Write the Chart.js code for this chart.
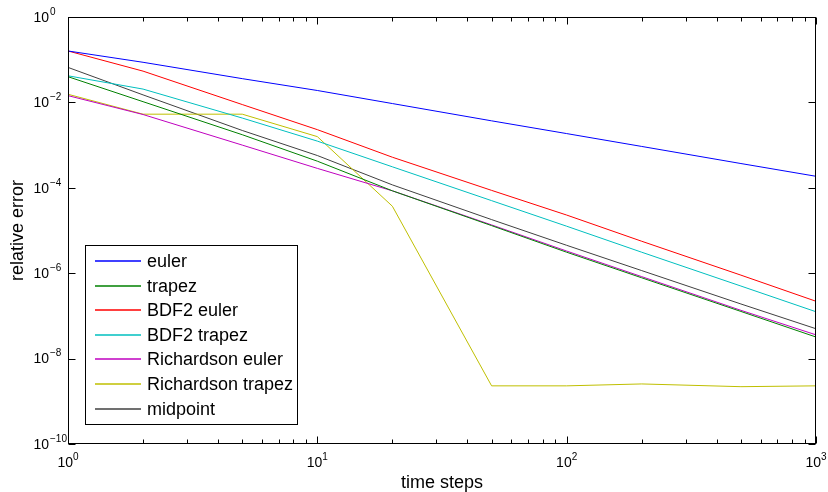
<!DOCTYPE html>
<html>
<head>
<meta charset="utf-8">
<script src="https://cdn.jsdelivr.net/npm/chart.js@4.4.0/dist/chart.umd.min.js"></script>
<style>
  body { margin: 0; background: #fff; }
  #wrap { width: 828px; height: 492px; position: relative; }
</style>
</head>
<body>
<div id="wrap"><canvas id="errChart"></canvas></div>
<script>
// time steps (x) and relative errors
const steps = [1, 2, 5, 10, 20, 50, 100, 200, 500, 1000];
const euler = [0.16, 0.087, 0.036, 0.019, 0.0094, 0.0037, 0.00186, 9.3e-4, 3.7e-4, 1.86e-4];
const trapez = [0.040, 0.0104, 1.75e-3, 4.2e-4, 8.5e-5, 1.3e-5, 3.1e-6, 7.8e-7, 1.27e-7, 3.2e-8];
const bdf2Euler = [0.16, 0.054, 8.9e-3, 2.3e-3, 5.2e-4, 8.7e-5, 2.3e-5, 5.6e-6, 9.0e-7, 2.2e-7];
const bdf2Trapez = [0.042, 0.0205, 4.3e-3, 1.24e-3, 3.1e-4, 5.0e-5, 1.26e-5, 3.1e-6, 5.0e-7, 1.25e-7];
const richEuler = [0.0144, 5.2e-3, 1.0e-3, 2.85e-4, 8.5e-5, 1.35e-5, 3.3e-6, 8.3e-7, 1.35e-7, 3.6e-8];
const richTrapez = [0.0155, 5.3e-3, 5.3e-3, 1.58e-3, 3.7e-5, 2.3e-9, 2.3e-9, 2.55e-9, 2.2e-9, 2.3e-9];
const midpoint = [0.066, 0.015, 2.2e-3, 5.7e-4, 1.17e-4, 1.8e-5, 4.5e-6, 1.15e-6, 1.9e-7, 5.0e-8];

const seriesNames = ['euler', 'trapez', 'BDF2 euler', 'BDF2 trapez', 'Richardson euler', 'Richardson trapez', 'midpoint'];
const seriesValues = [euler, trapez, bdf2Euler, bdf2Trapez, richEuler, richTrapez, midpoint];
const seriesColors = ['#0000ff', '#008000', '#ff0000', '#00bfbf', '#bf00bf', '#bfbf00', '#404040'];

const xTickExps = [0, 1, 2, 3];
const yTickExps = [0, -2, -4, -6, -8, -10];

const FONT = '"Liberation Sans", Arial, sans-serif';

function sup(e) {
  return e < 0 ? '\u2212' + Math.abs(e) : String(e);
}

// MATLAB-ish axes box, inward ticks, 10^n labels, axis titles and legend
const matlabAxes = {
  id: 'matlabAxes',
  afterDatasetsDraw(chart) {
    const ctx = chart.ctx;
    const xs = chart.scales.x, ys = chart.scales.y;
    const a = chart.chartArea;
    const L = Math.round(a.left) + 0.5, R = Math.round(a.right) - 0.5;
    const T = Math.round(a.top) + 0.5, B = Math.round(a.bottom) - 0.5;

    ctx.save();
    ctx.strokeStyle = '#000';
    ctx.lineWidth = 1;
    ctx.strokeRect(L, T, R - L, B - T);

    // x ticks (major + minor), top and bottom
    ctx.beginPath();
    for (let d = 0; d <= 3; d++) {
      for (let m = 1; m <= 9; m++) {
        const v = m * Math.pow(10, d);
        if (v > 1000) break;
        const px = Math.round(xs.getPixelForValue(v)) + 0.5;
        const len = m === 1 ? 7 : 4;
        ctx.moveTo(px, B); ctx.lineTo(px, B - len);
        ctx.moveTo(px, T); ctx.lineTo(px, T + len);
      }
    }
    // y ticks, left and right
    yTickExps.forEach(e => {
      const py = Math.round(ys.getPixelForValue(Math.pow(10, e))) + 0.5;
      ctx.moveTo(L, py); ctx.lineTo(L + 7, py);
      ctx.moveTo(R, py); ctx.lineTo(R - 7, py);
    });
    ctx.stroke();

    // tick labels
    ctx.fillStyle = '#000';
    yTickExps.forEach(e => {
      const py = ys.getPixelForValue(Math.pow(10, e));
      ctx.font = '14px ' + FONT;
      ctx.textAlign = 'right';
      ctx.textBaseline = 'middle';
      ctx.fillText('10', 49, py + 1);
      ctx.font = '10px ' + FONT;
      ctx.textAlign = 'left';
      ctx.fillText(sup(e), 50, py - 5);
    });
    xTickExps.forEach(e => {
      const px = xs.getPixelForValue(Math.pow(10, e));
      ctx.font = '14px ' + FONT;
      const w1 = ctx.measureText('10').width;
      ctx.font = '10px ' + FONT;
      const w2 = ctx.measureText(sup(e)).width;
      const x0 = px - (w1 + w2) / 2;
      ctx.textBaseline = 'middle';
      ctx.textAlign = 'left';
      ctx.font = '14px ' + FONT;
      ctx.fillText('10', x0, 463);
      ctx.font = '10px ' + FONT;
      ctx.fillText(sup(e), x0 + w1, 457);
    });

    // axis titles
    ctx.font = '18px ' + FONT;
    ctx.textAlign = 'center';
    ctx.textBaseline = 'middle';
    ctx.fillText('time steps', (a.left + a.right) / 2, 483);
    ctx.save();
    ctx.translate(18, (a.top + a.bottom) / 2);
    ctx.rotate(-Math.PI / 2);
    ctx.fillText('relative error', 0, 0);
    ctx.restore();

    // legend box
    const bx = 85.5, by = 245.5, bw = 212, bh = 179;
    ctx.fillStyle = '#fff';
    ctx.fillRect(bx, by, bw, bh);
    ctx.strokeStyle = '#000';
    ctx.lineWidth = 1;
    ctx.strokeRect(bx, by, bw, bh);
    ctx.font = '18px ' + FONT;
    ctx.textAlign = 'left';
    ctx.textBaseline = 'middle';
    seriesNames.forEach((name, i) => {
      const yy = Math.round(261 + i * 24.6);
      ctx.beginPath();
      ctx.strokeStyle = seriesColors[i];
      ctx.lineWidth = 1.5;
      ctx.moveTo(95, yy);
      ctx.lineTo(141, yy);
      ctx.stroke();
      ctx.fillStyle = '#000';
      ctx.fillText(name, 147, yy + 1);
    });
    ctx.restore();
  }
};

new Chart(document.getElementById('errChart').getContext('2d'), {
  type: 'line',
  data: {
    datasets: seriesNames.map((name, i) => ({
      label: name,
      data: steps.map((s, j) => ({ x: s, y: seriesValues[i][j] })),
      borderColor: seriesColors[i],
      borderWidth: 1,
      pointRadius: 0,
      tension: 0,
      fill: false
    }))
  },
  options: {
    responsive: true,
    maintainAspectRatio: false,
    animation: false,
    layout: { padding: { left: 68, top: 17, right: 12, bottom: 48 } },
    plugins: { legend: { display: false }, tooltip: { enabled: false } },
    scales: {
      x: { type: 'logarithmic', min: 1, max: 1000, display: false },
      y: { type: 'logarithmic', min: 1e-10, max: 1, display: false }
    }
  },
  plugins: [matlabAxes]
});
</script>
</body>
</html>
